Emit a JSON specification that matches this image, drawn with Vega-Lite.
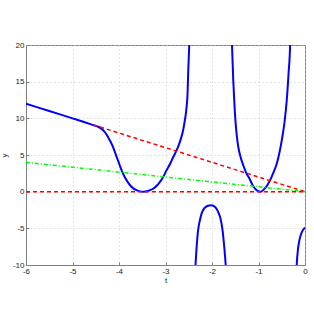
{
  "$schema": "https://vega.github.io/schema/vega-lite/v6.json",
  "width": 279,
  "height": 220,
  "autosize": "none",
  "padding": {"left": 26, "top": 45, "right": 9, "bottom": 54},
  "background": "white",
  "config": {
    "view": {"stroke": "#808080", "strokeWidth": 1},
    "font": "Liberation Sans",
    "axis": {
      "domainColor": "#808080",
      "tickColor": "#808080",
      "gridColor": "#c8c8c8",
      "gridDash": [1, 3],
      "gridWidth": 1,
      "labelFontSize": 8,
      "labelColor": "#222222",
      "titleFontSize": 8,
      "titleFontWeight": "normal",
      "titleColor": "#222222",
      "tickSize": -3,
      "labelPadding": 5,
      "labelOverlap": false,
      "labelFlush": false,
      "labelBound": false
    }
  },
  "datasets": {
    "curve": [
      {"b": "A", "t": -6, "y": 12}, {"b": "A", "t": -5.5, "y": 11}, {"b": "A", "t": -5, "y": 10},
      {"b": "A", "t": -4.8, "y": 9.6}, {"b": "A", "t": -4.65, "y": 9.28}, {"b": "A", "t": -4.524, "y": 9.02},
      {"b": "A", "t": -4.45, "y": 8.85}, {"b": "A", "t": -4.38, "y": 8.6}, {"b": "A", "t": -4.3, "y": 8.1},
      {"b": "A", "t": -4.237, "y": 7.45}, {"b": "A", "t": -4.18, "y": 6.8}, {"b": "A", "t": -4.13, "y": 6.1},
      {"b": "A", "t": -4.056, "y": 4.85}, {"b": "A", "t": -3.985, "y": 3.6}, {"b": "A", "t": -3.93, "y": 2.7},
      {"b": "A", "t": -3.877, "y": 2.0}, {"b": "A", "t": -3.8, "y": 1.2}, {"b": "A", "t": -3.733, "y": 0.68},
      {"b": "A", "t": -3.625, "y": 0.2}, {"b": "A", "t": -3.55, "y": 0.04}, {"b": "A", "t": -3.47, "y": 0},
      {"b": "A", "t": -3.38, "y": 0.1}, {"b": "A", "t": -3.267, "y": 0.4}, {"b": "A", "t": -3.19, "y": 0.8},
      {"b": "A", "t": -3.123, "y": 1.3}, {"b": "A", "t": -3.05, "y": 2.0}, {"b": "A", "t": -2.98, "y": 2.9},
      {"b": "A", "t": -2.9, "y": 3.8}, {"b": "A", "t": -2.836, "y": 4.7}, {"b": "A", "t": -2.78, "y": 5.4},
      {"b": "A", "t": -2.73, "y": 6.1}, {"b": "A", "t": -2.67, "y": 7.2}, {"b": "A", "t": -2.62, "y": 8.4},
      {"b": "A", "t": -2.58, "y": 9.9}, {"b": "A", "t": -2.547, "y": 11.5}, {"b": "A", "t": -2.525, "y": 13.5},
      {"b": "A", "t": -2.513, "y": 16.1}, {"b": "A", "t": -2.49, "y": 20}, {"b": "A", "t": -2.475, "y": 24},
      {"b": "B", "t": -2.38, "y": -12}, {"b": "B", "t": -2.354, "y": -9.9}, {"b": "B", "t": -2.33, "y": -7.5},
      {"b": "B", "t": -2.3, "y": -5.3}, {"b": "B", "t": -2.26, "y": -3.9}, {"b": "B", "t": -2.224, "y": -3.0},
      {"b": "B", "t": -2.17, "y": -2.3}, {"b": "B", "t": -2.1, "y": -1.95}, {"b": "B", "t": -2.02, "y": -1.85},
      {"b": "B", "t": -1.95, "y": -2.0}, {"b": "B", "t": -1.9, "y": -2.35}, {"b": "B", "t": -1.866, "y": -2.78},
      {"b": "B", "t": -1.82, "y": -3.6}, {"b": "B", "t": -1.772, "y": -5.3}, {"b": "B", "t": -1.74, "y": -7.3},
      {"b": "B", "t": -1.707, "y": -9.9}, {"b": "B", "t": -1.69, "y": -12},
      {"b": "C", "t": -1.59, "y": 24}, {"b": "C", "t": -1.57, "y": 20}, {"b": "C", "t": -1.543, "y": 15.2},
      {"b": "C", "t": -1.522, "y": 12.5}, {"b": "C", "t": -1.505, "y": 10.5}, {"b": "C", "t": -1.47, "y": 7.8},
      {"b": "C", "t": -1.435, "y": 6.1}, {"b": "C", "t": -1.38, "y": 4.6}, {"b": "C", "t": -1.328, "y": 3.6},
      {"b": "C", "t": -1.26, "y": 2.5}, {"b": "C", "t": -1.2, "y": 1.85}, {"b": "C", "t": -1.11, "y": 0.7},
      {"b": "C", "t": -1.03, "y": 0.15}, {"b": "C", "t": -0.953, "y": 0}, {"b": "C", "t": -0.87, "y": 0.4},
      {"b": "C", "t": -0.752, "y": 1.54}, {"b": "C", "t": -0.68, "y": 2.6}, {"b": "C", "t": -0.608, "y": 3.8},
      {"b": "C", "t": -0.55, "y": 5.3}, {"b": "C", "t": -0.5, "y": 7.0}, {"b": "C", "t": -0.44, "y": 9.5},
      {"b": "C", "t": -0.392, "y": 12.5}, {"b": "C", "t": -0.355, "y": 16}, {"b": "C", "t": -0.32, "y": 20},
      {"b": "C", "t": -0.305, "y": 24},
      {"b": "D", "t": -0.19, "y": -12}, {"b": "D", "t": -0.177, "y": -9.9}, {"b": "D", "t": -0.15, "y": -7.8},
      {"b": "D", "t": -0.12, "y": -6.6}, {"b": "D", "t": -0.08, "y": -5.7}, {"b": "D", "t": -0.04, "y": -5.2},
      {"b": "D", "t": 0, "y": -4.9}
    ],
    "lines": [
      {"s": "slope", "t": -4.55, "y": 9.1}, {"s": "slope", "t": 0, "y": 0},
      {"s": "third", "t": -6, "y": 4}, {"s": "third", "t": 0, "y": 0},
      {"s": "zero", "t": -6, "y": 0}, {"s": "zero", "t": 0, "y": 0}
    ]
  },
  "layer": [
    {
      "data": {"name": "curve"},
      "mark": {"type": "line", "clip": true, "color": "#0000ff", "strokeWidth": 2, "interpolate": "monotone"},
      "encoding": {
        "x": {"field": "t", "type": "quantitative", "scale": {"domain": [-6, 0], "nice": false},
              "axis": {"title": "t", "values": [-6, -5, -4, -3, -2, -1, 0], "grid": true, "titlePadding": 1,
                       "labelExpr": "replace(datum.label, '\u2212', '-')"}},
        "y": {"field": "y", "type": "quantitative", "scale": {"domain": [-10, 20], "nice": false},
              "axis": {"title": "y", "values": [-10, -5, 0, 5, 10, 15, 20], "grid": true, "titlePadding": 4,
                       "labelExpr": "replace(datum.label, '\u2212', '-')"}},
        "detail": {"field": "b"}
      }
    },
    {
      "data": {"name": "lines"},
      "mark": {"type": "line", "clip": true, "strokeWidth": 1.5},
      "encoding": {
        "x": {"field": "t", "type": "quantitative",
              "axis": {"title": "t", "values": [-6, -5, -4, -3, -2, -1, 0], "grid": true, "titlePadding": 1,
                       "labelExpr": "replace(datum.label, '\u2212', '-')"}},
        "y": {"field": "y", "type": "quantitative",
              "axis": {"title": "y", "values": [-10, -5, 0, 5, 10, 15, 20], "grid": true, "titlePadding": 4,
                       "labelExpr": "replace(datum.label, '\u2212', '-')"}},
        "color": {"field": "s", "type": "nominal", "legend": null,
                  "scale": {"domain": ["slope", "third", "zero"], "range": ["#ff0000", "#00ff00", "#ff0000"]}},
        "strokeDash": {"field": "s", "type": "nominal", "legend": null,
                       "scale": {"domain": ["slope", "third", "zero"], "range": [[4, 3], [4, 2, 1, 2], [4, 3]]}}
      }
    }
  ]
}
